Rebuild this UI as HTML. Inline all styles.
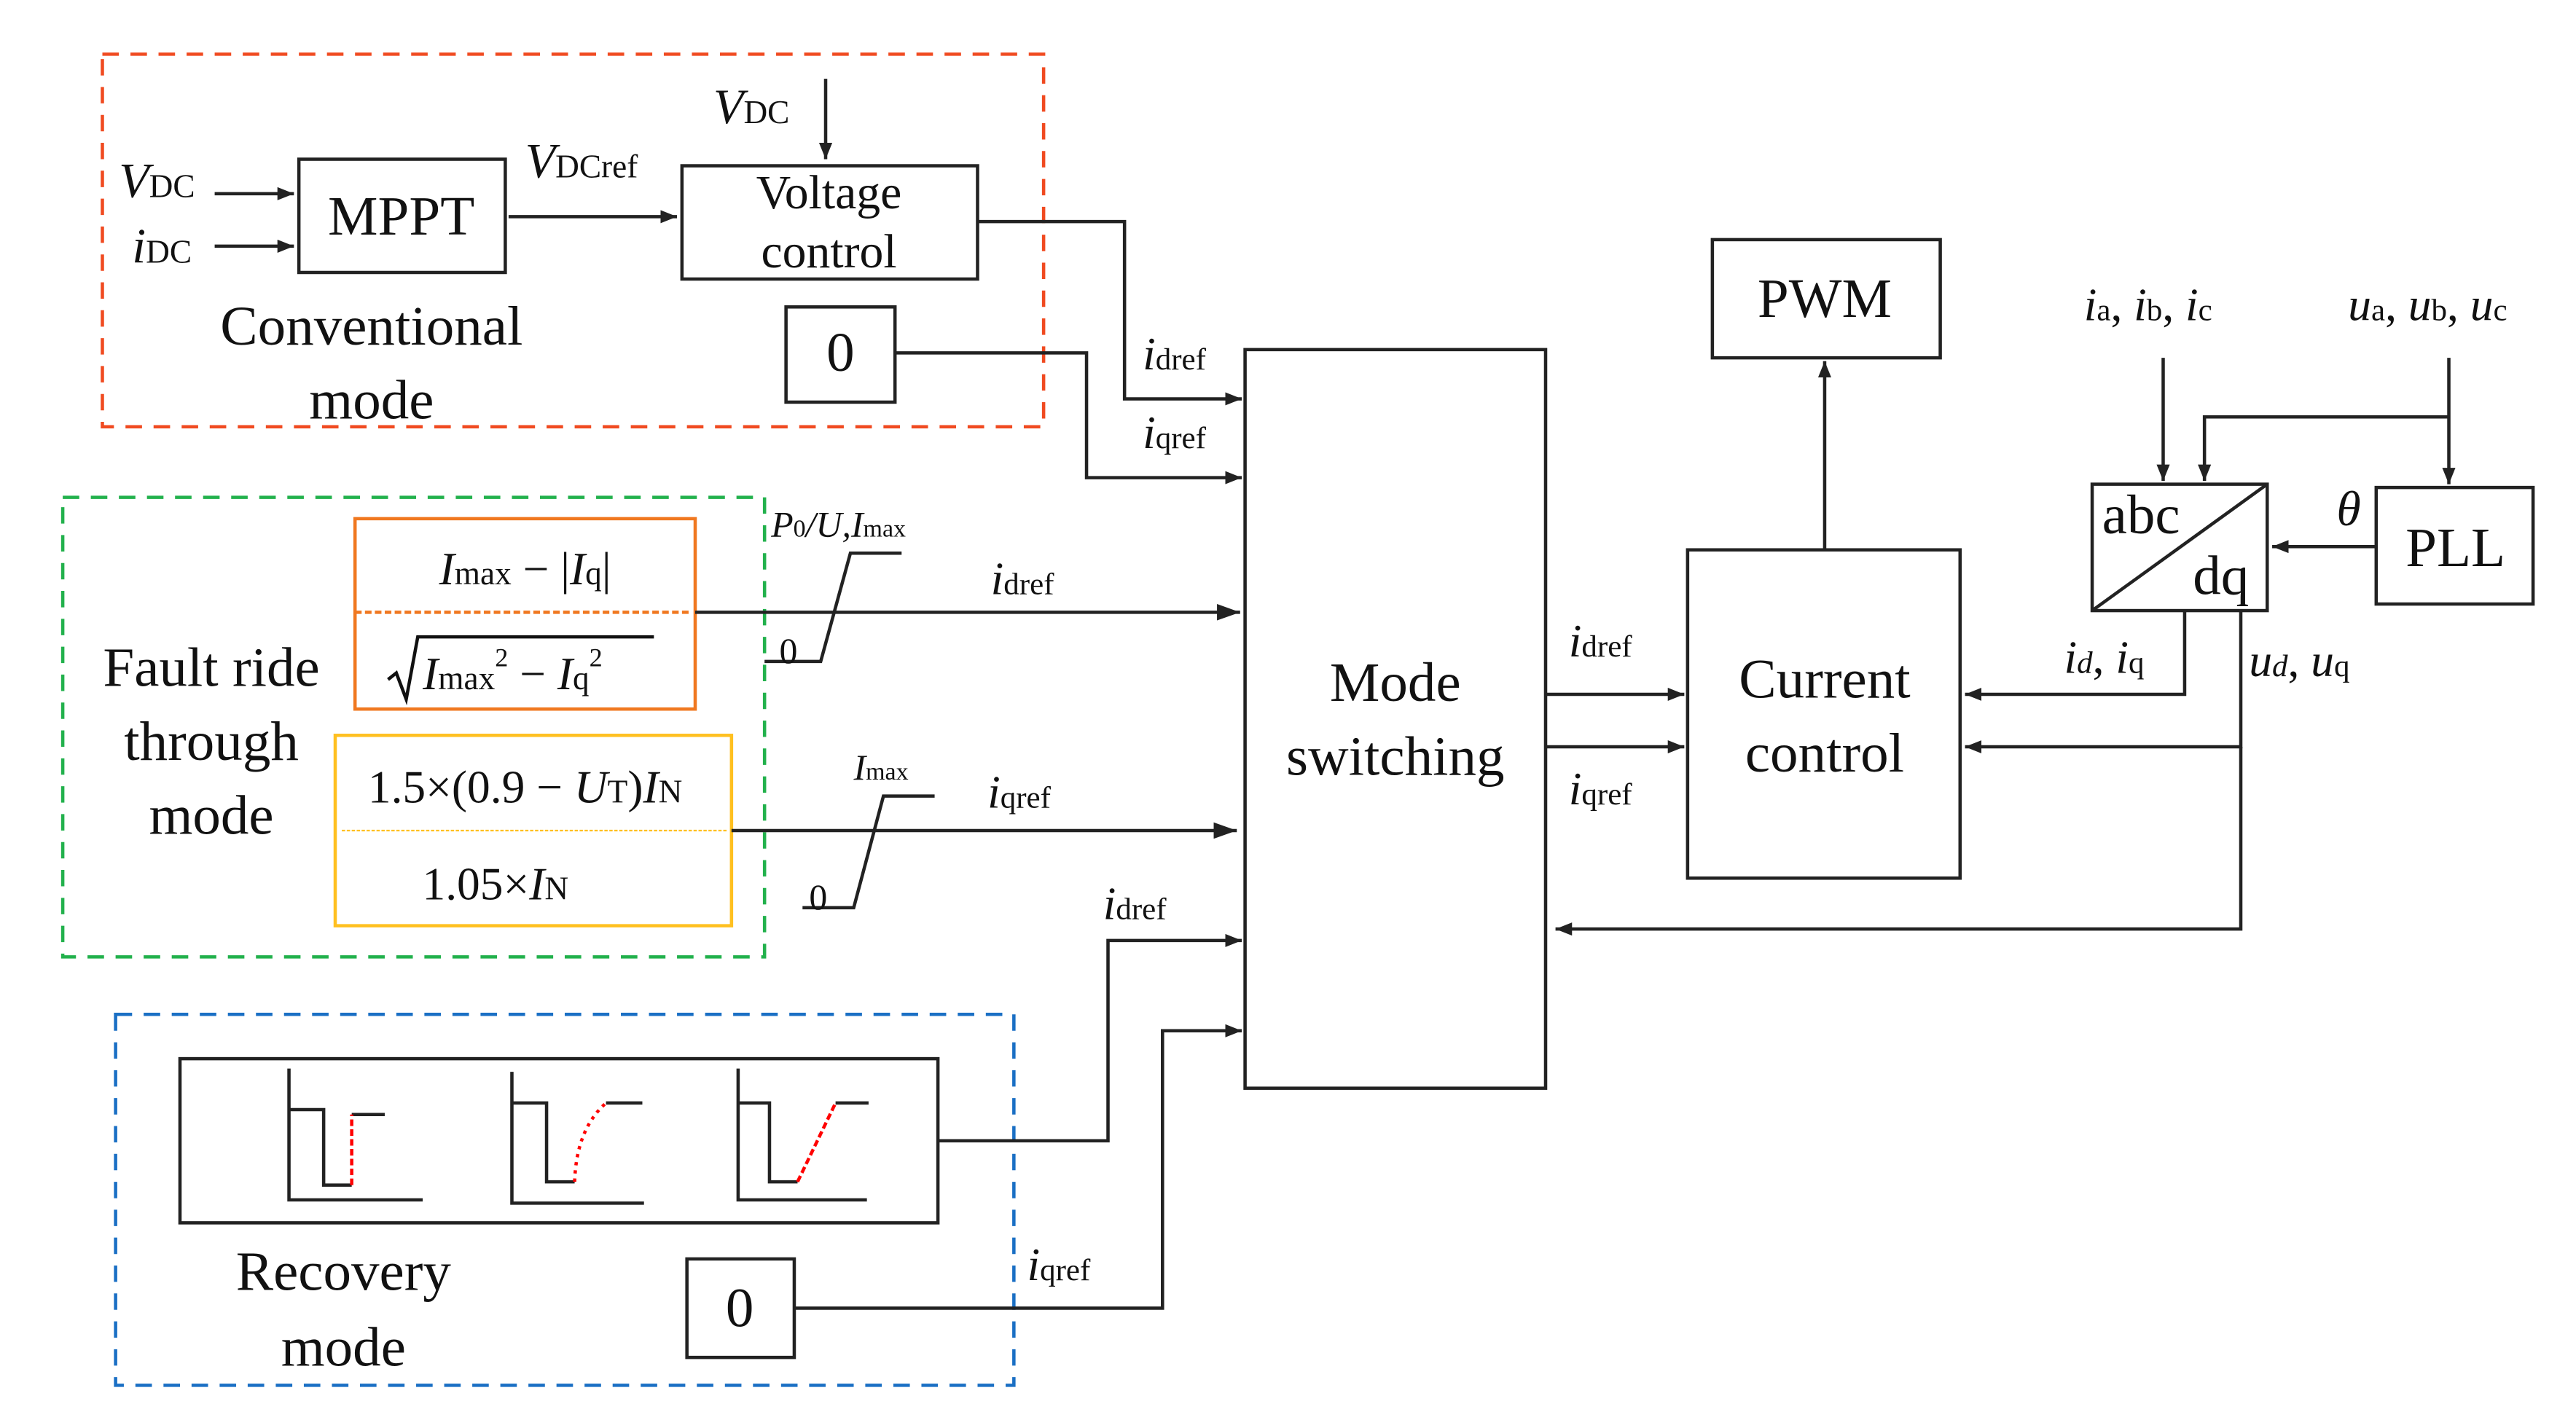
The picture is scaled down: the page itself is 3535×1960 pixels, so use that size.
<!DOCTYPE html>
<html><head><meta charset="utf-8"><style>
html,body{margin:0;padding:0;background:#fff;}
svg{display:block;}
text{font-family:"Liberation Serif",serif;fill:#111;}
.i{font-style:italic;}
.s{font-style:normal;}
</style></head><body>
<svg width="3535" height="1960" viewBox="0 0 1560 870" preserveAspectRatio="none" xmlns="http://www.w3.org/2000/svg">
<defs>
<marker id="a" markerWidth="10" markerHeight="8" refX="10" refY="4" orient="auto" markerUnits="userSpaceOnUse">
<path d="M0,0 L10,4 L0,8 Z" fill="#222"/></marker>
<marker id="b" markerWidth="14" markerHeight="10" refX="14" refY="5" orient="auto" markerUnits="userSpaceOnUse">
<path d="M0,0 L14,5 L0,10 Z" fill="#222"/></marker>
</defs>
<g fill="none" stroke="#222" stroke-width="2">
<!-- dashed mode boxes -->
<rect x="62" y="33" width="570" height="227" stroke="#f04a20" stroke-dasharray="10,7"/>
<rect x="38" y="303" width="425" height="280" stroke="#22b14c" stroke-dasharray="10,7"/>
<rect x="70" y="618" width="544" height="226" stroke="#1a6fc4" stroke-dasharray="10,7"/>
<!-- blocks -->
<rect x="181" y="97" width="125" height="69"/>
<rect x="413" y="101" width="179" height="69"/>
<rect x="476" y="187" width="66" height="58"/>
<rect x="215" y="316" width="206" height="116" stroke="#f07820"/>
<line x1="215" y1="373" x2="419" y2="373" stroke="#f07820" stroke-dasharray="4,2"/>
<rect x="203" y="448" width="240" height="116" stroke="#ffc020"/>
<line x1="207" y1="506" x2="440" y2="506" stroke="#ffc020" stroke-width="1" stroke-dasharray="2,1"/>
<rect x="754" y="213" width="182" height="450"/>
<rect x="109" y="645" width="459" height="100"/>
<rect x="416" y="767" width="65" height="60"/>
<rect x="1022" y="335" width="165" height="200"/>
<rect x="1037" y="146" width="138" height="72"/>
<rect x="1267" y="295" width="106" height="77"/>
<line x1="1267" y1="372" x2="1373" y2="295"/>
<rect x="1439" y="297" width="95" height="71"/>
<!-- top conv connections -->
<line x1="130" y1="118" x2="178" y2="118" marker-end="url(#a)"/>
<line x1="130" y1="150" x2="178" y2="150" marker-end="url(#a)"/>
<line x1="308" y1="132" x2="410" y2="132" marker-end="url(#a)"/>
<line x1="500" y1="48" x2="500" y2="97" marker-end="url(#a)"/>
<polyline points="592,135 681,135 681,243 752,243" marker-end="url(#a)"/>
<polyline points="542,215 658,215 658,291 752,291" marker-end="url(#a)"/>
<!-- fault -->
<polyline points="463,403 497,403 515,337 546,337"/>
<line x1="421" y1="373" x2="751" y2="373" marker-end="url(#b)"/>
<polyline points="486,553 517,553 535,485 566,485"/>
<line x1="443" y1="506" x2="749" y2="506" marker-end="url(#b)"/>
<!-- recovery -->
<polyline points="568,695 671,695 671,573 752,573" marker-end="url(#a)"/>
<polyline points="481,797 704,797 704,628 752,628" marker-end="url(#a)"/>
<!-- waveforms -->
<polyline points="175,651 175,731 256,731"/>
<polyline points="175,676 196,676 196,722 213,722"/>
<line x1="213" y1="679" x2="233" y2="679"/>
<polyline points="310,653 310,733 390,733"/>
<polyline points="310,672 331,672 331,720 348,720"/>
<line x1="367" y1="672" x2="389" y2="672"/>
<polyline points="447,651 447,731 525,731"/>
<polyline points="447,672 466,672 466,720 483,720"/>
<line x1="506" y1="672" x2="526" y2="672"/>
<line x1="213" y1="722" x2="213" y2="679" stroke="#f00" stroke-dasharray="4,2"/>
<path d="M348,720 Q349,688 367,672" stroke="#f00" stroke-dasharray="2,3"/>
<line x1="483" y1="720" x2="506" y2="672" stroke="#f00" stroke-dasharray="4,2"/>
<!-- right side -->
<line x1="936" y1="423" x2="1020" y2="423" marker-end="url(#a)"/>
<line x1="936" y1="455" x2="1020" y2="455" marker-end="url(#a)"/>
<line x1="1105" y1="335" x2="1105" y2="220" marker-end="url(#a)"/>
<line x1="1310" y1="218" x2="1310" y2="293" marker-end="url(#a)"/>
<line x1="1483" y1="218" x2="1483" y2="295" marker-end="url(#a)"/>
<polyline points="1483,254 1335,254 1335,293" marker-end="url(#a)"/>
<line x1="1439" y1="333" x2="1376" y2="333" marker-end="url(#a)"/>
<polyline points="1323,372 1323,423 1190,423" marker-end="url(#a)"/>
<polyline points="1357,372 1357,455 1190,455" marker-end="url(#a)"/>
<polyline points="1357,455 1357,566 942,566" marker-end="url(#a)"/>
<!-- sqrt -->
<polyline points="235,414 240,410 246,426 253,388 396,388" stroke="#111"/>
</g>
<!-- texts -->
<g font-size="34">
<text x="243" y="143" text-anchor="middle">MPPT</text>
<text x="225" y="210" text-anchor="middle">Conventional</text>
<text x="225" y="255" text-anchor="middle">mode</text>
<text x="128" y="418" text-anchor="middle">Fault ride</text>
<text x="128" y="463" text-anchor="middle">through</text>
<text x="128" y="508" text-anchor="middle">mode</text>
<text x="208" y="786" text-anchor="middle">Recovery</text>
<text x="208" y="832" text-anchor="middle">mode</text>
<text x="845" y="427" text-anchor="middle">Mode</text>
<text x="845" y="472" text-anchor="middle">switching</text>
<text x="1105" y="425" text-anchor="middle">Current</text>
<text x="1105" y="470" text-anchor="middle">control</text>
<text x="1105" y="193" text-anchor="middle">PWM</text>
<text x="1487" y="345" text-anchor="middle">PLL</text>
<text x="1273" y="325">abc</text>
<text x="1328" y="362">dq</text>
<text x="509" y="226" text-anchor="middle">0</text>
<text x="448" y="808" text-anchor="middle">0</text>
</g>
<text x="502" y="127" font-size="29" text-anchor="middle">Voltage</text>
<text x="502" y="163" font-size="29" text-anchor="middle">control</text>
<g font-size="30">
<text x="72" y="120" class="i">V<tspan class="s" font-size="20">DC</tspan></text>
<text x="80" y="160" class="i">i<tspan class="s" font-size="20">DC</tspan></text>
<text x="318" y="108" class="i">V<tspan class="s" font-size="20">DCref</tspan></text>
<text x="432" y="75" class="i">V<tspan class="s" font-size="20">DC</tspan></text>
<text x="1415" y="320" class="i">θ</text>
</g>
<g font-size="28">
<text x="692" y="225" class="i">i<tspan class="s" font-size="19">dref</tspan></text>
<text x="692" y="273" class="i">i<tspan class="s" font-size="19">qref</tspan></text>
<text x="600" y="362" class="i">i<tspan class="s" font-size="19">dref</tspan></text>
<text x="598" y="492" class="i">i<tspan class="s" font-size="19">qref</tspan></text>
<text x="668" y="560" class="i">i<tspan class="s" font-size="19">dref</tspan></text>
<text x="622" y="780" class="i">i<tspan class="s" font-size="19">qref</tspan></text>
<text x="950" y="400" class="i">i<tspan class="s" font-size="19">dref</tspan></text>
<text x="950" y="490" class="i">i<tspan class="s" font-size="19">qref</tspan></text>
<text x="1250" y="410" class="i">i<tspan font-size="19">d</tspan><tspan class="s">, </tspan>i<tspan class="s" font-size="19">q</tspan></text>
<text x="1362" y="412" class="i">u<tspan font-size="19">d</tspan><tspan class="s">, </tspan>u<tspan class="s" font-size="19">q</tspan></text>
<text x="1262" y="195" class="i">i<tspan class="s" font-size="19">a</tspan><tspan class="s">, </tspan>i<tspan class="s" font-size="19">b</tspan><tspan class="s">, </tspan>i<tspan class="s" font-size="19">c</tspan></text>
<text x="1422" y="195" class="i">u<tspan class="s" font-size="19">a</tspan><tspan class="s">, </tspan>u<tspan class="s" font-size="19">b</tspan><tspan class="s">, </tspan>u<tspan class="s" font-size="19">c</tspan></text>
</g>
<g font-size="22">
<text x="467" y="327" class="i">P<tspan class="s" font-size="15">0</tspan>/U,I<tspan class="s" font-size="15">max</tspan></text>
<text x="472" y="404">0</text>
<text x="517" y="475" class="i">I<tspan class="s" font-size="15">max</tspan></text>
<text x="490" y="554">0</text>
</g>
<g font-size="28">
<text x="318" y="356" text-anchor="middle"><tspan class="i">I</tspan><tspan font-size="20">max</tspan> − |<tspan class="i">I</tspan><tspan font-size="20">q</tspan>|</text>
<text x="256" y="420"><tspan class="i">I</tspan><tspan font-size="20">max</tspan><tspan font-size="16" dy="-14">2</tspan><tspan dy="14"> − </tspan><tspan class="i">I</tspan><tspan font-size="20">q</tspan><tspan font-size="16" dy="-14">2</tspan></text>
<text x="318" y="489" text-anchor="middle">1.5×(0.9 − <tspan class="i">U</tspan><tspan font-size="20">T</tspan>)<tspan class="i">I</tspan><tspan font-size="20">N</tspan></text>
<text x="300" y="548" text-anchor="middle">1.05×<tspan class="i">I</tspan><tspan font-size="20">N</tspan></text>
</g>
</svg>
</body></html>
